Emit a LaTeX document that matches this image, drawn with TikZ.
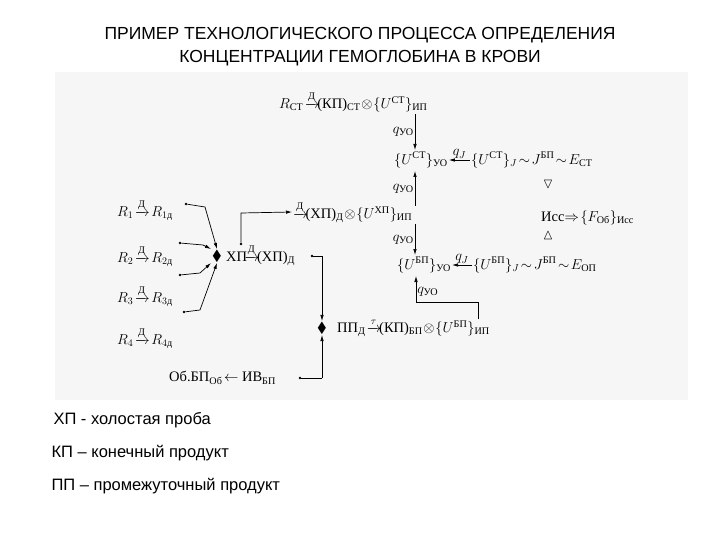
\documentclass[tikz,border=0pt]{standalone}
\usepackage{amsmath,amssymb}
\usepackage{fontspec}
\setmainfont{Liberation Serif}
\newfontfamily\arialf{Liberation Sans}
\usetikzlibrary{arrows.meta}
\newcommand{\tx}[1]{\text{#1}}
\newcommand{\ra}[1]{\xrightarrow{#1}}
\begin{document}
\begin{tikzpicture}[x=1pt,y=-1pt,
  t/.style={inner sep=1pt,font=\fontsize{14.5}{16}\selectfont},
  ttl/.style={font=\arialf\fontsize{17.5}{19}\selectfont},
  leg/.style={font=\arialf\fontsize{16.5}{18}\selectfont,anchor=west},
  ar/.style={-{Latex[length=6pt,width=3.5pt]},line width=0.7pt},
  ln/.style={line width=0.7pt},
  dot/.style={circle,fill,inner sep=0.9pt}]
\useasboundingbox (0,0) rectangle (720,540);
\fill[gray!7] (55,72) rectangle (688,400);
\node[ttl] (t1) at (360,35) {ПРИМЕР  ТЕХНОЛОГИЧЕСКОГО ПРОЦЕССА ОПРЕДЕЛЕНИЯ};
\node[ttl] (t2) at (360,58) {КОНЦЕНТРАЦИИ ГЕМОГЛОБИНА В КРОВИ};
% top chain
\node[t,anchor=west] (rst) at (278,102) {$R_{\tx{СТ}}\!\ra{\tx{Д}}\!$(КП)$_{\tx{СТ}}\!\otimes\!\{U^{\tx{СТ}}\}_{\tx{ИП}}$};
\node[t,anchor=west] (ust) at (393,160) {$\{U^{\tx{СТ}}\}_{\tx{УО}}$};
\node[t,anchor=west] (ustj) at (470,160) {$\{U^{\tx{СТ}}\}_J\!\sim\!J^{\tx{БП}}\!\sim\!E_{\tx{СТ}}$};
\node[t,anchor=west] (xpd) at (292,212) {$\ra{\tx{Д}}\!$(ХП)$_{\tx{Д}}\!\otimes\!\{U^{\tx{ХП}}\}_{\tx{ИП}}$};
\node[t,anchor=west] (ubp) at (396,265) {$\{U^{\tx{БП}}\}_{\tx{УО}}$};
\node[t,anchor=west] (ubpj) at (472,265) {$\{U^{\tx{БП}}\}_J\!\sim\!J^{\tx{БП}}\!\sim\!E_{\tx{ОП}}$};
\node[t,anchor=west] (iss) at (540,218) {Исс$\Rightarrow\!\{F_{\tx{Об}}\}_{\tx{Исс}}$};
\node[t] (tr1) at (548,185) {$\triangledown$};
\node[t] (tr2) at (548,236) {$\vartriangle$};
\node[t,anchor=west] (pp) at (336,328) {ПП$_{\tx{Д}}\!\ra{\tau}\!$(КП)$_{\tx{БП}}\!\otimes\!\{U^{\tx{БП}}\}_{\tx{ИП}}$};
\node[t] (c2) at (322,328) {$\blacklozenge$};
% vertical q arrows
\draw[ar] (415,114) -- node[t,left]{$q_{\tx{УО}}$} (415,150);
\draw[ar] (415,206) -- node[t,left]{$q_{\tx{УО}}$} (415,171);
\draw[ar] (415,224) -- node[t,left]{$q_{\tx{УО}}$} (415,255);
\draw[ln] (478,319) -- (478,302) -- (416,302);
\draw[ar] (416,302) -- node[t,right,pos=0.4]{$q_{\tx{УО}}$} (416,276);
\draw[ar] (ustj.west) -- node[t,above]{$q_J$} (ust.east);
\draw[ar] (ubpj.west) -- node[t,above]{$q_J$} (ubp.east);
% left reagents
\node[t] (r1) at (145,210) {$R_1\!\ra{\tx{Д}}\!R_{1\tx{д}}$};
\node[t] (r2) at (145,256) {$R_2\!\ra{\tx{Д}}\!R_{2\tx{д}}$};
\node[t] (r3) at (145,296) {$R_3\!\ra{\tx{Д}}\!R_{3\tx{д}}$};
\node[t] (r4) at (145,338) {$R_4\!\ra{\tx{Д}}\!R_{4\tx{д}}$};
\node[t] (c1) at (217,256) {$\blacklozenge$};
\node[t,anchor=west] (xp) at (225,255) {ХП$\!\ra{\tx{Д}}\!$(ХП)$_{\tx{Д}}$};
\node[dot] (d1) at (186,204) {};
\node[dot] (d2) at (180,243) {};
\node[dot] (d3) at (180,275) {};
\node[dot] (d4) at (184,312) {};
\draw[ar] (d1) -- (205,207) -- (c1.north);
\draw[ar] (d2) -- (203,245) -- (c1.north west);
\draw[ar] (d3) -- (200,273) -- (c1.south west);
\draw[ar] (d4) -- (200,310) -- (c1.south);
\node[dot] (d5) at (241,244) {};
\draw[ar] (d5) -- (241,213) -- (xpd.west);
\node[dot] (d6) at (312,256) {};
\draw[ln] (d6) -- (322,256);
\draw[ar] (322,256) -- (c2.north);
\node[t,anchor=west] (ob) at (168,378) {Об.БП$_{\tx{Об}}\!\leftarrow$ ИВ$_{\tx{БП}}$};
\node[dot] (d7) at (300,378) {};
\draw[ln] (d7) -- (322,378);
\draw[ar] (322,378) -- (c2.south);
% legend
\node[leg] (l1) at (50,420) {ХП - холостая проба};
\node[leg] (l2) at (48,453) {КП – конечный  продукт};
\node[leg] (l3) at (48,486) {ПП – промежуточный продукт};
\end{tikzpicture}
\end{document}
